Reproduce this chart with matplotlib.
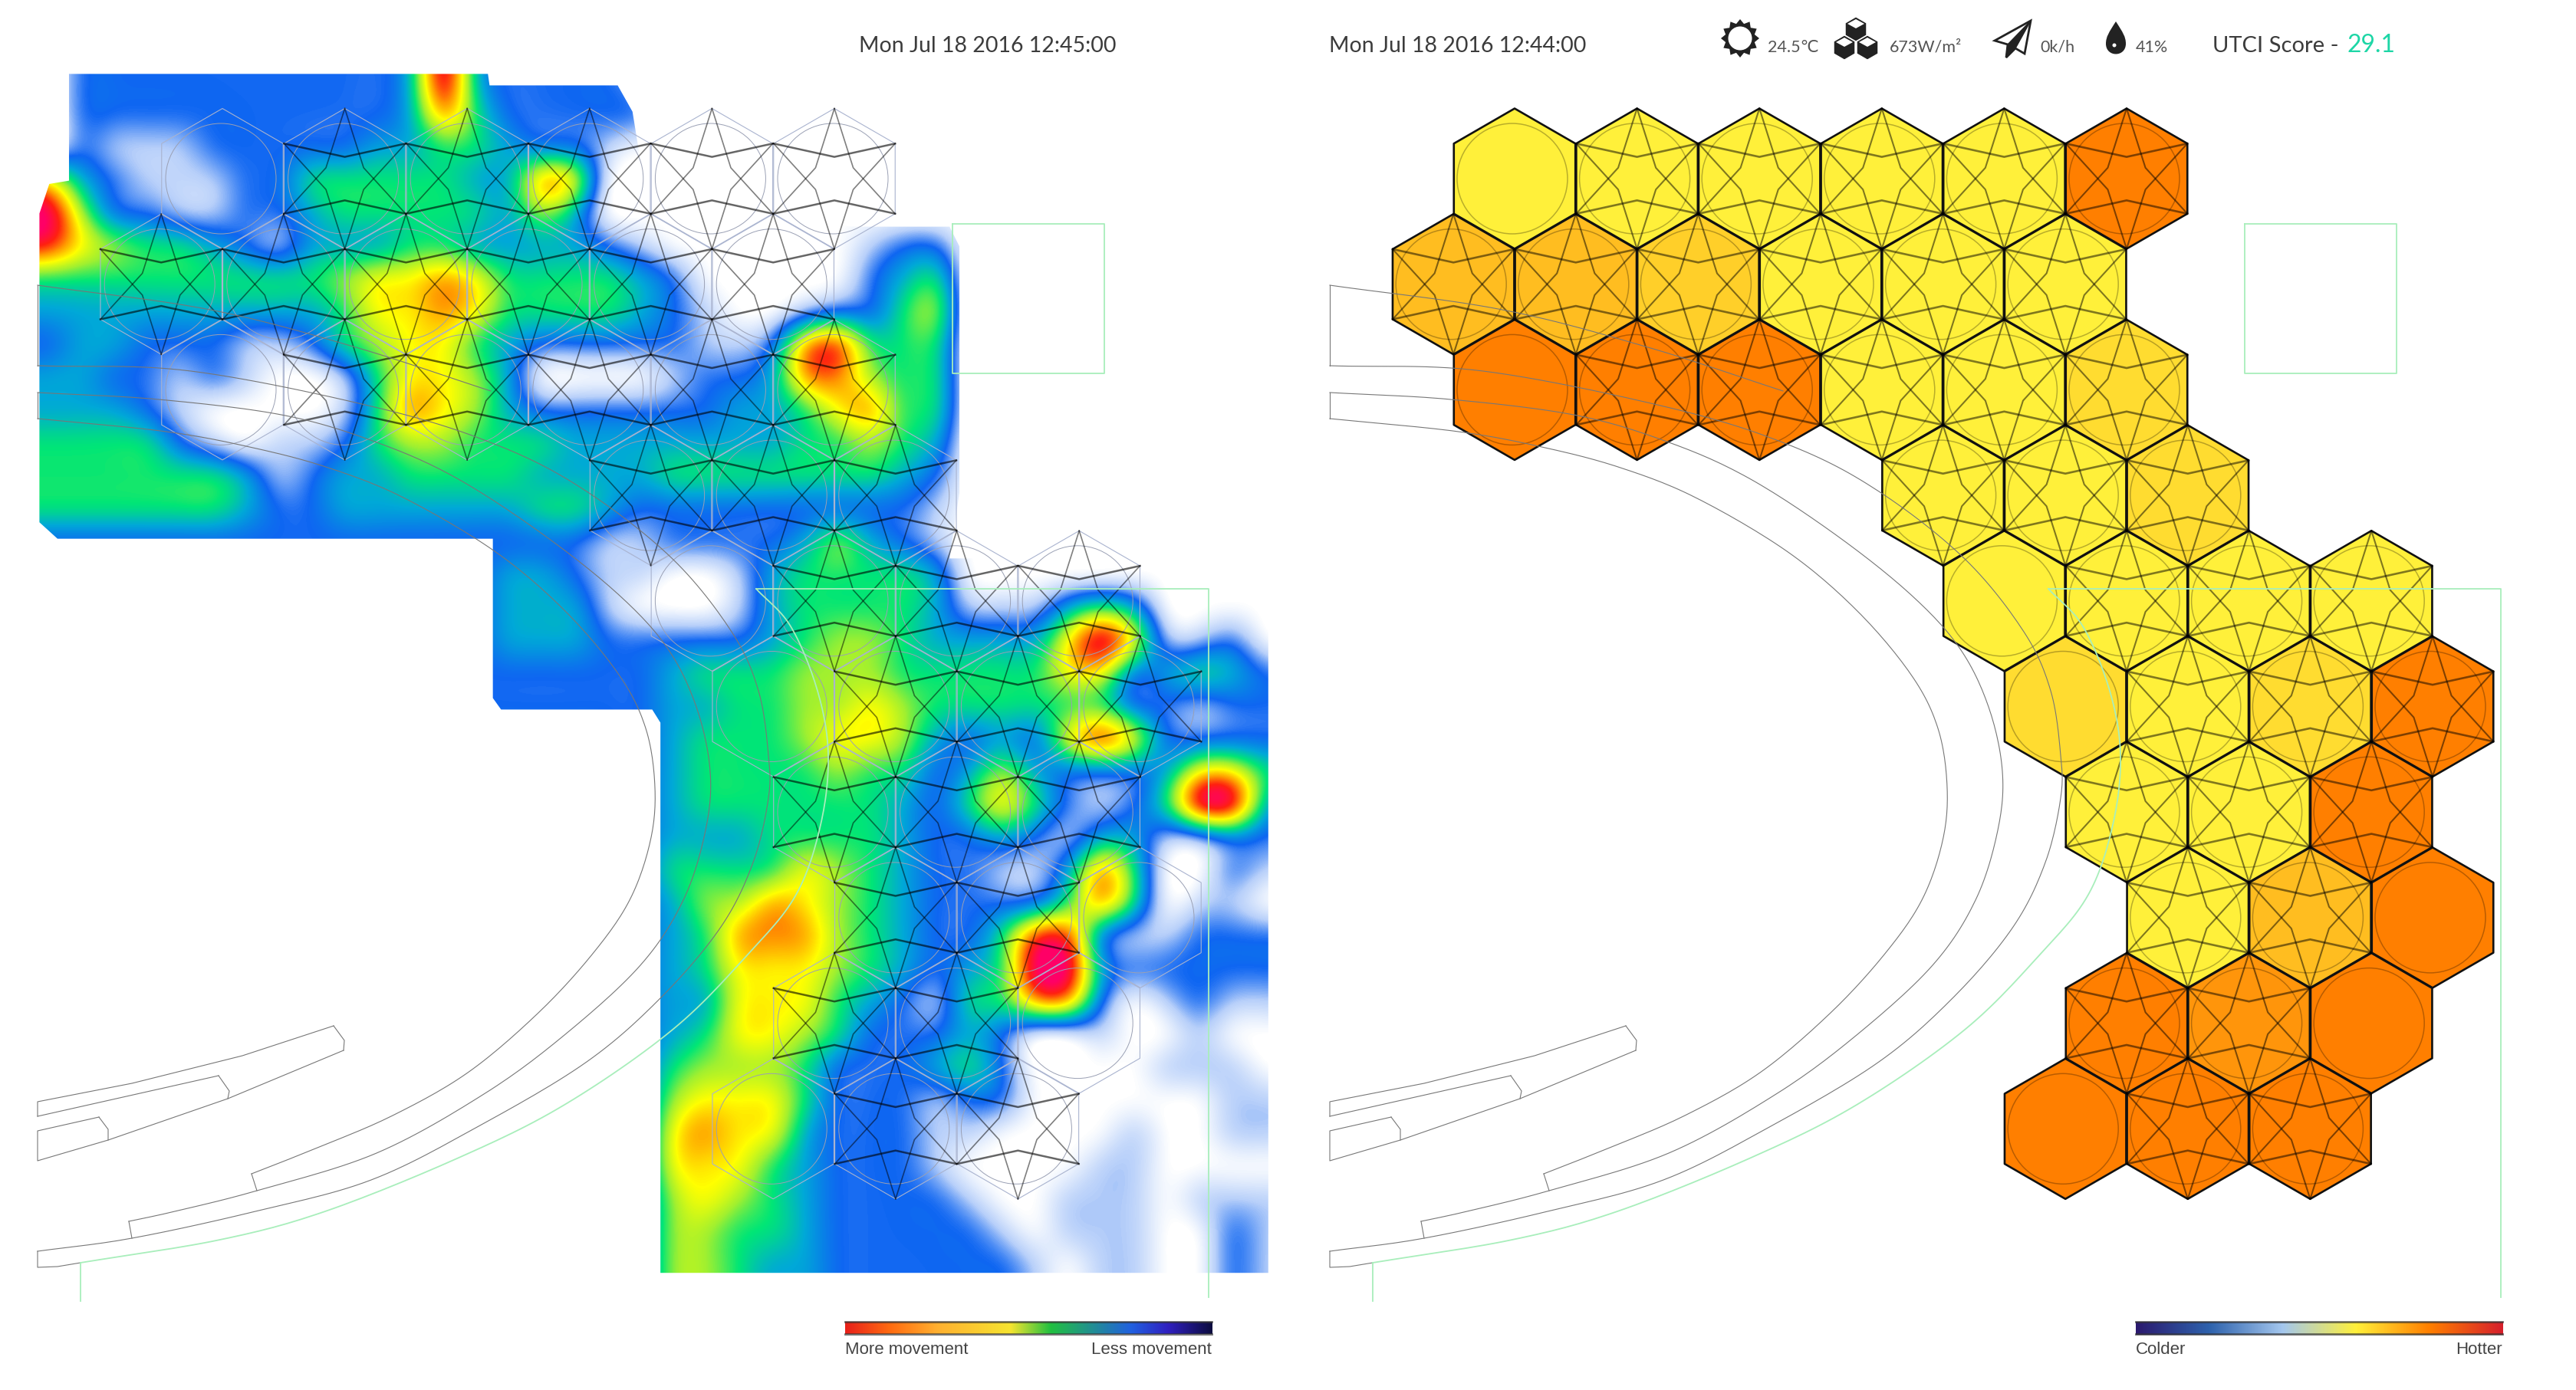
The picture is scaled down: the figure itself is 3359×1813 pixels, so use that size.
import numpy as np
import matplotlib
matplotlib.use('Agg')
import matplotlib.pyplot as plt
from matplotlib.colors import LinearSegmentedColormap
from matplotlib.patches import Polygon, Circle, PathPatch
from matplotlib.path import Path

W, H = 3359, 1813
SHOWN = 3359 / 1568
SHIFT = 1685  # right panel sits this far from the left one

# movement values, digit 0 (none) .. 9 (most)
# one row every 20 px of the 1568 wide view, starting y=50, columns start x=30
heat_rows = [
    "0222222222239322221",
    "0222222222237422222",
    "021112222233443221",
    "632111224444433760",
    "952211223444443530",
    "8654432133344333321000000122",
    "4444444445667644443200000234",
    "3333333334667644443210012245",
    "2332221124566432222211278444",
    "3322121001466530000122377544",
    "3332100001476532222223346744",
    "4444210112455444333333344543",
    "4444443123344443333444444432",
    "4444443223333334432222222221",
    "2222222222222222211222235321",
    "22222222222222332110013444430",
    "2222222222222233310001344443111343",
    "22222222222222333222223455433336961120",
    "22222222222222222223444555444446623432",
    "22222222222222222223344556544444422122",
    "22222222222222222223444566532326862222",
    "00000000000000000023444454423532223664",
    "00000000000000000023444444324642124993",
    "00000000000000000023334444322321331122",
    "00000000000000000024444654322113740021",
    "00000000000000000023557654322224740110",
    "00000000000000000023477754322488211222",
    "00000000000000000023466654323499322222",
    "00000000000000000023366643214477201211",
    "00000000000000000023466542223200100100",
    "00000000000000000024555422234200001110",
    "00000000000000000025666422212200000011",
    "00000000000000000026766322211000010011",
    "00000000000000000026664322210000110000",
    "00000000000000000025654322221001110111",
    "00000000000000000025544322222101110021",
    "00000000000000000025543322222210110021",
]
heat_levels = ['#ffffff', '#b8d0fa', '#0f66f2', '#00a8d8', '#00e676',
               '#a0f030', '#ffff00', '#ff9a00', '#ff2010', '#ff0066']

# where the movement picture stops, in 1568 wide view px
heat_outline = [(42, 45), (297, 45), (298, 52), (376, 52), (385, 68), (395, 130), (520, 138),
                (578, 138), (584, 150), (584, 300), (578, 340), (772, 340), (772, 775), (402, 775),
                (402, 440), (397, 432), (305, 432), (300, 425), (300, 328), (35, 328), (24, 318),
                (24, 130), (30, 112), (42, 110)]

# hexagons: row, half-step column, temperature score
hex_row = [0, 0, 0, 0, 0, 0,
           1, 1, 1, 1, 1, 1,
           2, 2, 2, 2, 2, 2,
           3, 3, 3,
           4, 4, 4, 4,
           5, 5, 5, 5,
           6, 6, 6,
           7, 7, 7,
           8, 8, 8,
           9, 9, 9]
hex_col = [1, 3, 5, 7, 9, 11,
           0, 2, 4, 6, 8, 10,
           1, 3, 5, 7, 9, 11,
           8, 10, 12,
           9, 11, 13, 15,
           10, 12, 14, 16,
           11, 13, 15,
           12, 14, 16,
           11, 13, 15,
           10, 12, 14]
hex_score = [.60, .60, .60, .60, .60, .80,
             .69, .69, .66, .60, .60, .60,
             .80, .80, .80, .60, .60, .635,
             .60, .60, .635,
             .60, .60, .60, .60,
             .635, .60, .635, .80,
             .60, .60, .80,
             .60, .69, .80,
             .80, .76, .80,
             .80, .80, .80]
# 1 = has the star lattice on it
hex_star = [0, 1, 1, 1, 1, 1,
            1, 1, 1, 1, 1, 1,
            0, 1, 1, 1, 1, 1,
            1, 1, 1,
            0, 1, 1, 1,
            0, 1, 1, 1,
            1, 1, 1,
            1, 1, 0,
            1, 1, 0,
            0, 1, 1]

temp_stops = [(0, '#2b1a6e'), (.2, '#2e62ad'), (.4, '#a4c7ee'), (.6, '#fff03a'), (.8, '#ff7f00'), (1, '#d6202c')]
move_stops = [(0, '#e8201a'), (.12, '#ff6a10'), (.25, '#ffb030'), (.45, '#f6e430'), (.56, '#20c040'),
              (.78, '#2060e0'), (.88, '#3020c0'), (1, '#0c0c40')]

HEX_X0, HEX_DX, HEX_Y0, HEX_DY, HEX_R = 210.2, 79.8, 233, 137.7, 91.5

# site lines, full size px, left panel
inner_ring = [(49, 546), (217, 563), (330, 584), (428, 610), (526, 649), (645, 719), (736, 796), (807, 880),
              (842, 950), (854, 1027), (848, 1097), (821, 1174), (772, 1245), (701, 1322), (610, 1399),
              (512, 1455), (414, 1497), (328, 1531)]
middle_ring = [(49, 512), (207, 521), (372, 542), (494, 578), (596, 624), (708, 697), (806, 775), (870, 845),
               (908, 922), (926, 1006), (920, 1083), (891, 1174), (835, 1259), (736, 1350), (631, 1427),
               (491, 1504), (335, 1553), (228, 1580), (168, 1593)]
outer_ring = [(49, 477), (249, 484), (497, 533), (652, 582), (765, 641), (877, 729), (954, 824), (989, 901),
              (1002, 985), (1002, 1041), (982, 1125), (940, 1209), (863, 1300), (765, 1385), (624, 1469),
              (484, 1539), (333, 1580), (172, 1615), (49, 1632)]
top_line = [(49, 372), (274, 404), (464, 453), (640, 510)]
edge_lines = [[(49, 372), (49, 477)], [(49, 512), (49, 546)], [(328, 1531), (335, 1553)], [(168, 1593), (172, 1615)],
              [(49, 1632), (49, 1653), (75, 1652), (105, 1647)]]
seat_a = [(49, 1456), (49, 1437), (172, 1413), (316, 1377), (435, 1338)]
seat_a2 = [(435, 1338), (449, 1357), (448, 1370)]
seat_b = [(448, 1370), (297, 1433), (141, 1487), (49, 1514), (49, 1475), (129, 1457)]
seat_c = [(49, 1456), (285, 1403)]
seat_c2 = [(285, 1403), (299, 1423), (297, 1433)]
seat_d = [(129, 1457), (141, 1473), (141, 1487)]
green_arc = [(105, 1647), (287, 1617), (424, 1580), (596, 1511), (736, 1441), (877, 1343), (975, 1245),
             (1038, 1167), (1070, 1076), (1080, 985), (1066, 901), (1031, 817), (986, 768)]
green_lines = [[(986, 768), (1576, 768), (1576, 1692)], [(105, 1647), (105, 1697)],
               [(1242, 292), (1440, 292), (1440, 487), (1242, 487), (1242, 292)]]


def smooth(pts, n=14):
    # catmull-rom through the traced points, only to draw the curved site lines
    p = np.array(pts, dtype=float)
    p = np.vstack([2 * p[0] - p[1], p, 2 * p[-1] - p[-2]])
    out = []
    for i in range(1, len(p) - 2):
        for t in np.linspace(0, 1, n, endpoint=False):
            out.append(.5 * (2 * p[i] + (p[i + 1] - p[i - 1]) * t
                             + (2 * p[i - 1] - 5 * p[i] + 4 * p[i + 1] - p[i + 2]) * t ** 2
                             + (3 * p[i] - p[i - 1] - 3 * p[i + 1] + p[i + 2]) * t ** 3))
    out.append(p[-2])
    return np.array(out)


def hex_points(cx, cy, r):
    a = np.radians(90 + 60 * np.arange(6))
    return np.column_stack([cx + r * np.cos(a), cy - r * np.sin(a)])


def star_lines(cx, cy, r):
    # one dented chevron between two vertices, turned six times
    base = np.array([[-.866, .5], [0, .31], [.866, .5]])
    lines = []
    for k in range(6):
        a = np.radians(60 * k)
        x = base[:, 0] * np.cos(a) - base[:, 1] * np.sin(a)
        y = base[:, 0] * np.sin(a) + base[:, 1] * np.cos(a)
        lines.append(np.column_stack([cx + r * x, cy - r * y]))
    return lines


def sharpen(z):
    # agg's bicubic blurs peaks away, push them back up first
    p = np.pad(z, 1, mode='edge')
    b = (p[:-2, :] + 4 * p[1:-1, :] + p[2:, :]) / 6
    b = (b[:, :-2] + 4 * b[:, 1:-1] + b[:, 2:]) / 6
    return z + .9 * (z - b)


def draw_site(ax, dx):
    for curve in [inner_ring, middle_ring, outer_ring, top_line]:
        s = smooth(curve)
        ax.plot(s[:, 0] + dx, s[:, 1], color='#777777', lw=0.8, zorder=6)
    for line in edge_lines + [seat_a, seat_a2, seat_b, seat_c, seat_c2, seat_d]:
        s = np.array(line)
        ax.plot(s[:, 0] + dx, s[:, 1], color='#777777', lw=0.8, zorder=6)
    s = smooth(green_arc)
    ax.plot(s[:, 0] + dx, s[:, 1], color='#a8eebb', lw=1.3, zorder=6)
    for line in green_lines:
        s = np.array(line)
        ax.plot(s[:, 0] + dx, s[:, 1], color='#a8eebb', lw=1.3, zorder=6)


plt.rcParams['font.family'] = ['Lato', 'DejaVu Sans']
fig = plt.figure(figsize=(W / 100, H / 100), dpi=100)
ax = fig.add_axes([0, 0, 1, 1])
ax.set_xlim(0, W)
ax.set_ylim(H, 0)
ax.axis('off')

# left panel, movement map
heat = np.array([[int(v) for v in r.ljust(38, '0')] for r in heat_rows], dtype=float)
heat_cmap = LinearSegmentedColormap.from_list('move', heat_levels)
im = ax.imshow(sharpen(heat), cmap=heat_cmap, vmin=0, vmax=9, interpolation='bicubic', interpolation_stage='data',
               extent=[20 * SHOWN, 780 * SHOWN, 780 * SHOWN, 40 * SHOWN], aspect='auto', zorder=1)
clip = Polygon(np.array(heat_outline) * SHOWN, closed=True, transform=ax.transData, fc='none', ec='none')
ax.add_patch(clip)
im.set_clip_path(clip)
ax.set_xlim(0, W)
ax.set_ylim(H, 0)

draw_site(ax, 0)
draw_site(ax, SHIFT)

temp_cmap = LinearSegmentedColormap.from_list('temp', temp_stops)
move_cmap = LinearSegmentedColormap.from_list('movebar', move_stops)

for row, col, score, star in zip(hex_row, hex_col, hex_score, hex_star):
    cx = HEX_X0 + col * HEX_DX
    cy = HEX_Y0 + row * HEX_DY
    # left panel: thin outlines over the map
    ax.add_patch(Polygon(hex_points(cx, cy, HEX_R), closed=True, fc='none', ec='#a9b3cf', lw=0.8, zorder=4))
    ax.add_patch(Circle((cx - 2, cy), 72, fc='none', ec='#9aa0b4', lw=0.7, zorder=4))
    if star:
        for k, line in enumerate(star_lines(cx, cy, HEX_R)):
            ax.plot(line[:, 0], line[:, 1], color='black', alpha=.6 if k % 3 == 0 else .5,
                    lw=1.8 if k % 3 == 0 else 1.2, zorder=5)
    # right panel: filled cells
    rx = cx + SHIFT
    ax.add_patch(Polygon(hex_points(rx, cy, HEX_R), closed=True, fc=temp_cmap(score), ec='#111111', lw=1.9,
                         joinstyle='round', zorder=4))
    ax.add_patch(Circle((rx - 3, cy), 72, fc='none', ec='black', alpha=.28, lw=1.1, zorder=5))
    if star:
        for k, line in enumerate(star_lines(rx, cy, HEX_R)):
            ax.plot(line[:, 0], line[:, 1], color='black', alpha=.5, lw=1.9 if k % 3 == 0 else 1.5, zorder=5)

# colour bars
grad = np.linspace(0, 1, 256).reshape(1, -1)
ax.imshow(grad, cmap=move_cmap, extent=[1102, 1580, 1740, 1724], aspect='auto', zorder=2)
ax.imshow(grad, cmap=temp_cmap, extent=[2785, 3263, 1741, 1724], aspect='auto', zorder=2)
ax.set_xlim(0, W)
ax.set_ylim(H, 0)
for x0, x1 in [(1102, 1580), (2785, 3263)]:
    ax.plot([x0, x1], [1724, 1724], color='#333333', alpha=.7, lw=2, zorder=3)
    ax.plot([x0, x1], [1740, 1740], color='#333333', alpha=.7, lw=2, zorder=3)

LEGEND = ['Liberation Sans', 'DejaVu Sans']
ax.text(1102, 1761, 'More movement', fontsize=16, color='#444444', family=LEGEND, ha='left', va='center')
ax.text(1580, 1761, 'Less movement', fontsize=16, color='#444444', family=LEGEND, ha='right', va='center')
ax.text(2785, 1761, 'Colder', fontsize=16, color='#444444', family=LEGEND, ha='left', va='center')
ax.text(3263, 1761, 'Hotter', fontsize=16, color='#444444', family=LEGEND, ha='right', va='center')

# header
ax.text(1120, 60, 'Mon Jul 18 2016 12:45:00', fontsize=20.5, color='#3c3c3c', ha='left', va='center')
ax.text(1733, 60, 'Mon Jul 18 2016 12:44:00', fontsize=20.5, color='#3c3c3c', ha='left', va='center')
ax.text(2305, 62, '24.5℃', fontsize=15.5, color='#555555', ha='left', va='center')
ax.text(2464, 62, '673W/m²', fontsize=15.5, color='#555555', ha='left', va='center')
ax.text(2660, 62, '0k/h', fontsize=15.5, color='#555555', ha='left', va='center')
ax.text(2785, 62, '41%', fontsize=15.5, color='#555555', ha='left', va='center')
ax.text(2885, 60, 'UTCI Score - ', fontsize=21, color='#3c3c3c', ha='left', va='center')
ax.text(3060, 59, '29.1', fontsize=23, color='#1dd6a6', ha='left', va='center')

# sun icon
ang = np.radians(np.arange(0, 360, 15))
rad = np.where(np.arange(24) % 2 == 0, 25, 19.5)
ax.add_patch(Polygon(np.column_stack([2269 + rad * np.cos(ang), 50 + rad * np.sin(ang)]), fc='#222222', ec='none', zorder=7))
ax.add_patch(Circle((2269, 50), 15.5, fc='white', ec='none', zorder=8))

# cubes icon
for cx, cy in [(2420, 38), (2405, 62), (2435, 62)]:
    ax.add_patch(Polygon(hex_points(cx, cy, 16), fc='#222222', ec='white', lw=0.8, zorder=7))
    ax.add_patch(Polygon([(cx, cy - 13), (cx + 11, cy - 7), (cx, cy - 1), (cx - 11, cy - 7)], fc='white', ec='none', zorder=8))

# paper plane icon
ax.add_patch(Polygon([(2648, 27), (2601, 53), (2618, 58), (2616, 75), (2628, 63), (2640, 70)], fc='white', ec='#222222',
                     lw=2, joinstyle='miter', zorder=7))
ax.add_patch(Polygon([(2648, 27), (2618, 58), (2616, 75), (2628, 63)], fc='#222222', ec='#222222', lw=1, zorder=8))

# drop icon
ax.add_patch(PathPatch(Path([(2759, 28), (2750, 42), (2746, 48), (2746, 57), (2746, 75), (2772, 75), (2772, 57),
                             (2772, 48), (2768, 42), (2759, 28)],
                            [Path.MOVETO, Path.CURVE4, Path.CURVE4, Path.CURVE4, Path.CURVE4, Path.CURVE4, Path.CURVE4,
                             Path.CURVE4, Path.CURVE4, Path.CURVE4]), fc='#222222', ec='none', zorder=7))
ax.add_patch(Circle((2757, 59), 2.5, fc='white', ec='none', zorder=8))

fig.savefig('out.png', dpi=100, facecolor='white')
